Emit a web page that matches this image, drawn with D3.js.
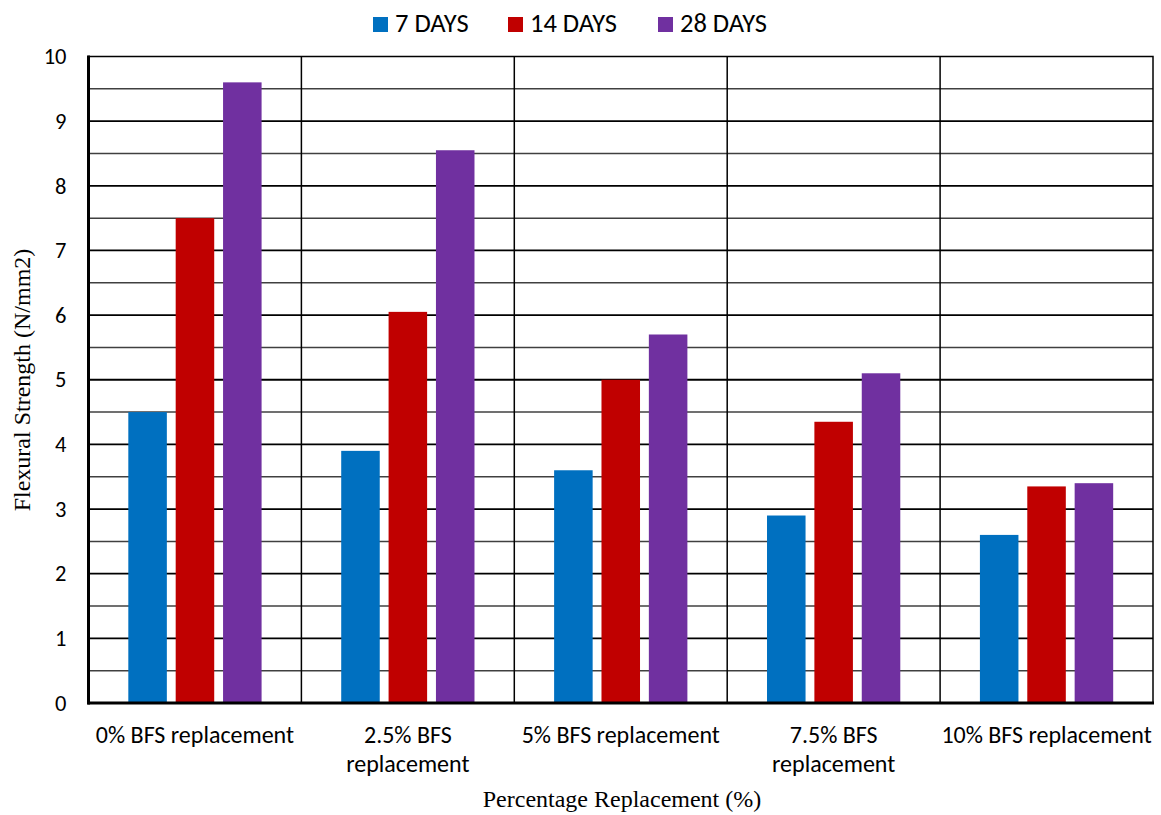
<!DOCTYPE html>
<html><head><meta charset="utf-8">
<script src="https://cdn.jsdelivr.net/npm/d3@7"></script>
<style>body{margin:0;background:#fff}svg{display:block}</style>
</head><body>
<svg id="c" width="1161" height="815"></svg>
<script>
const categories = [["0% BFS replacement"],["2.5% BFS","replacement"],["5% BFS replacement"],["7.5% BFS","replacement"],["10% BFS replacement"]];
const seriesNames = ["7 DAYS","14 DAYS","28 DAYS"];
const days7 = [4.5, 3.9, 3.6, 2.9, 2.6];
const days14 = [7.5, 6.05, 5.0, 4.35, 3.35];
const days28 = [9.6, 8.55, 5.7, 5.1, 3.4];
const colors = ["#0070C0","#C00000","#7030A0"];
const yTicks = [0,1,2,3,4,5,6,7,8,9,10];

(function () {
const series = [days7, days14, days28];
const svg = d3.select("#c");
const pL = 88.5, pR = 1153, pT = 56.5, pB = 703;
const sans = "Carlito, Calibri, 'Open Sans', Lato, sans-serif";
const serif = "'Liberation Serif', 'Times New Roman', serif";

const x = d3.scaleBand().domain(d3.range(categories.length)).range([pL, pR]).padding(0);
const y = d3.scaleLinear().domain([0, 10]).range([pB, pT]);

const halves = d3.range(0.5, 10, 1);
svg.append("g").selectAll("line").data(halves).join("line")
  .attr("x1", pL).attr("x2", pR)
  .attr("y1", d => y(d)).attr("y2", d => y(d))
  .attr("stroke", "#404040").attr("stroke-width", 1.5);
svg.append("g").selectAll("line").data(yTicks.filter(d => d > 0 && d < 10)).join("line")
  .attr("x1", pL).attr("x2", pR)
  .attr("y1", d => y(d)).attr("y2", d => y(d))
  .attr("stroke", "#000").attr("stroke-width", 1.8);
svg.append("g").selectAll("line").data(d3.range(1, categories.length)).join("line")
  .attr("x1", d => x(d)).attr("x2", d => x(d))
  .attr("y1", pT).attr("y2", pB)
  .attr("stroke", "#000").attr("stroke-width", 1.5);

const bw = x.bandwidth();
const barW = bw * 0.181, stride = bw * 0.2225;
series.forEach((vals, si) => {
  svg.append("g").selectAll("rect").data(vals).join("rect")
    .attr("x", (d, i) => x(i) + bw / 2 + (si - 1) * stride - barW / 2)
    .attr("width", barW)
    .attr("y", d => y(d))
    .attr("height", d => y(0) - y(d))
    .attr("fill", colors[si]);
});

svg.append("rect").attr("x", pL).attr("y", pT).attr("width", pR - pL).attr("height", pB - pT)
  .attr("fill", "none").attr("stroke", "#000").attr("stroke-width", 1.5);
svg.append("line").attr("x1", pL).attr("x2", pL).attr("y1", pT - 1).attr("y2", pB + 1.5)
  .attr("stroke", "#000").attr("stroke-width", 3);
svg.append("line").attr("x1", pL - 1).attr("x2", pR + 1).attr("y1", pB).attr("y2", pB)
  .attr("stroke", "#000").attr("stroke-width", 3);

const yAxis = svg.append("g").attr("transform", `translate(${pL},0)`)
  .call(d3.axisLeft(y).tickValues(yTicks).tickSize(0).tickPadding(22).tickFormat(d3.format("d")));
yAxis.select(".domain").remove();
yAxis.selectAll("text").attr("font-family", sans).attr("font-size", 22.5).attr("fill", "#000");

const xl = svg.append("g").selectAll("text").data(categories).join("text")
  .attr("x", (d, i) => x(i) + bw / 2).attr("y", 743)
  .attr("text-anchor", "middle").attr("font-family", sans).attr("font-size", 24).attr("fill", "#000");
xl.selectAll("tspan").data(d => d).join("tspan")
  .attr("x", function () { return d3.select(this.parentNode).attr("x"); })
  .attr("dy", (d, i) => i === 0 ? 0 : 29).text(d => d);

svg.append("text").attr("x", 622).attr("y", 807).attr("text-anchor", "middle")
  .attr("font-family", serif).attr("font-size", 24).attr("fill", "#000").text("Percentage Replacement (%)");
svg.append("text").attr("transform", "translate(30,380) rotate(-90)").attr("text-anchor", "middle")
  .attr("font-family", serif).attr("font-size", 24).attr("fill", "#000").text("Flexural Strength (N/mm2)");

const legX = [373, 508, 658];
const lg = svg.append("g").selectAll("g").data(seriesNames).join("g")
  .attr("transform", (d, i) => `translate(${legX[i]},0)`);
lg.append("rect").attr("x", 0).attr("y", 17).attr("width", 15).attr("height", 15).attr("fill", (d, i) => colors[i]);
lg.append("text").attr("x", 22).attr("y", 32).attr("font-family", sans).attr("font-size", 26.5).attr("fill", "#000").text(d => d);
})();
</script>
</body></html>
